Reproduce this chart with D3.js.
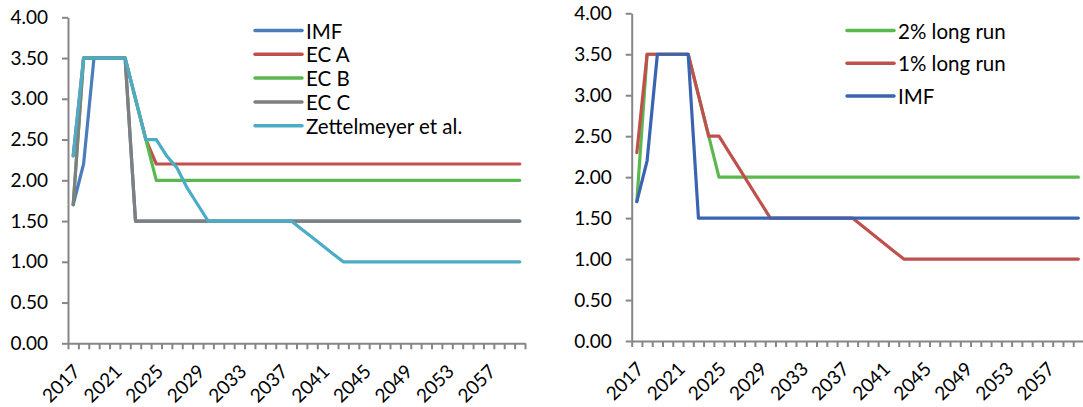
<!DOCTYPE html>
<html>
<head>
<meta charset="utf-8">
<script src="https://cdn.jsdelivr.net/npm/d3@7"></script>
<style>
  html, body { margin: 0; padding: 0; background: #fff; }
  svg { display: block; font-family: Lato, "Open Sans", sans-serif; }
</style>
</head>
<body>
<svg id="chart" width="1083" height="407"></svg>
<script>
// ---------- DATA ----------
const years = d3.range(2017, 2061); // 2017..2060
const xTickLabels = [2017, 2021, 2025, 2029, 2033, 2037, 2041, 2045, 2049, 2053, 2057];
const yTicks = [0, 0.5, 1, 1.5, 2, 2.5, 3, 3.5, 4];

function fill(arr, n, v) { const a = arr.slice(); while (a.length < n) a.push(v); return a; }
const imf       = fill([1.7, 2.2, 3.5, 3.5, 3.5, 3.5, 1.5], 44, 1.5);
const ecA       = fill([2.3, 3.5, 3.5, 3.5, 3.5, 3.5, 3.0, 2.5, 2.2], 44, 2.2);
const ecB       = fill([1.7, 3.5, 3.5, 3.5, 3.5, 3.5, 3.0, 2.5, 2.0], 44, 2.0);
const ecC       = fill([1.7, 3.5, 3.5, 3.5, 3.5, 3.5, 1.5], 44, 1.5);
const zettel    = fill([2.3, 3.5, 3.5, 3.5, 3.5, 3.5, 3.0, 2.5, 2.5, 2.3, 2.15, 1.9, 1.7,
                        1.5, 1.5, 1.5, 1.5, 1.5, 1.5, 1.5, 1.5, 1.5, 1.4, 1.3, 1.2, 1.1, 1.0], 44, 1.0);
const longRun2  = fill([1.7, 3.5, 3.5, 3.5, 3.5, 3.5, 3.0, 2.5, 2.0], 44, 2.0);
const longRun1  = fill([2.3, 3.5, 3.5, 3.5, 3.5, 3.5, 3.0, 2.5, 2.5, 2.3, 2.1, 1.9, 1.7,
                        1.5, 1.5, 1.5, 1.5, 1.5, 1.5, 1.5, 1.5, 1.5, 1.4, 1.3, 1.2, 1.1, 1.0], 44, 1.0);

const leftSeries = [
  { name: "IMF", values: imf, color: "#4A7EBB" },
  { name: "EC A", values: ecA, color: "#C0504D" },
  { name: "EC B", values: ecB, color: "#5BB84E" },
  { name: "EC C", values: ecC, color: "#7F7F7F" },
  { name: "Zettelmeyer et al.", values: zettel, color: "#4BACC6" }
];
const rightSeries = [
  { name: "2% long run", values: longRun2, color: "#5BB84E" },
  { name: "1% long run", values: longRun1, color: "#C0504D" },
  { name: "IMF", values: imf, color: "#3A64B2" }
];

// ---------- DRAW ----------
const svg = d3.select("#chart");
const axisColor = "#868686";

function drawPanel(cfg) {
  const g = svg.append("g");
  const x = d3.scaleBand().domain(years).range([cfg.x0, cfg.x1]).padding(0);
  const xb = d3.scaleLinear().domain([0, years.length]).range([cfg.x0, cfg.x1]);
  const y = d3.scaleLinear().domain([0, 4]).range([cfg.yb, cfg.yt]);

  const gxTicks = g.append("g").attr("transform", `translate(0,${cfg.yb})`)
    .call(d3.axisBottom(xb).tickValues(d3.range(years.length + 1)).tickFormat("").tickSize(6).tickSizeOuter(0));
  gxTicks.selectAll("path,line").attr("stroke", axisColor).attr("stroke-width", 2);

  const gxLab = g.append("g").attr("transform", `translate(0,${cfg.yb})`)
    .call(d3.axisBottom(x).tickValues(xTickLabels).tickSize(0).tickPadding(0));
  gxLab.select(".domain").remove();
  gxLab.attr("font-size", null).attr("font-family", null);
  gxLab.selectAll("text")
    .style("font-size", "19px").attr("fill", "#000")
    .attr("text-anchor", "end")
    .attr("dy", null).attr("y", null)
    .attr("transform", "translate(3,24) rotate(-45)")
    .attr("dominant-baseline", "central");

  const gy = g.append("g").attr("transform", `translate(${cfg.x0},0)`)
    .call(d3.axisLeft(y).tickValues(yTicks).tickFormat(d3.format(".2f")).tickSize(6).tickPadding(14).tickSizeOuter(0));
  gy.attr("font-size", null).attr("font-family", null);
  gy.selectAll("path,line").attr("stroke", axisColor).attr("stroke-width", 2);
  gy.selectAll("text").style("font-size", "19px").attr("fill", "#000");

  const line = d3.line().x((d, i) => x(years[i]) + x.bandwidth() / 2).y(d => y(d));
  cfg.series.forEach(s => {
    g.append("path").datum(s.values)
      .attr("fill", "none").attr("stroke", s.color).attr("stroke-width", 3.2)
      .attr("stroke-linejoin", "round").attr("stroke-linecap", "round")
      .attr("d", line);
  });

  const lg = g.append("g");
  cfg.series.forEach((s, i) => {
    const yy = cfg.legY + i * cfg.legStep;
    lg.append("line").attr("x1", cfg.legX).attr("x2", cfg.legX + 47)
      .attr("y1", yy).attr("y2", yy).attr("stroke", s.color).attr("stroke-width", 3.5)
      .attr("stroke-linecap", "round");
    lg.append("text").attr("x", cfg.legX + 51).attr("y", yy)
      .attr("dominant-baseline", "central").style("font-size", "20.5px").attr("fill", "#000")
      .text(s.name);
  });
}

drawPanel({ x0: 68, x1: 525, yt: 17.3, yb: 343.3, series: leftSeries, legX: 255, legY: 30.5, legStep: 23.8 });
drawPanel({ x0: 631.7, x1: 1083.5, yt: 13.3, yb: 341, series: rightSeries, legX: 847, legY: 30.5, legStep: 32.7 });
</script>
</body>
</html>
